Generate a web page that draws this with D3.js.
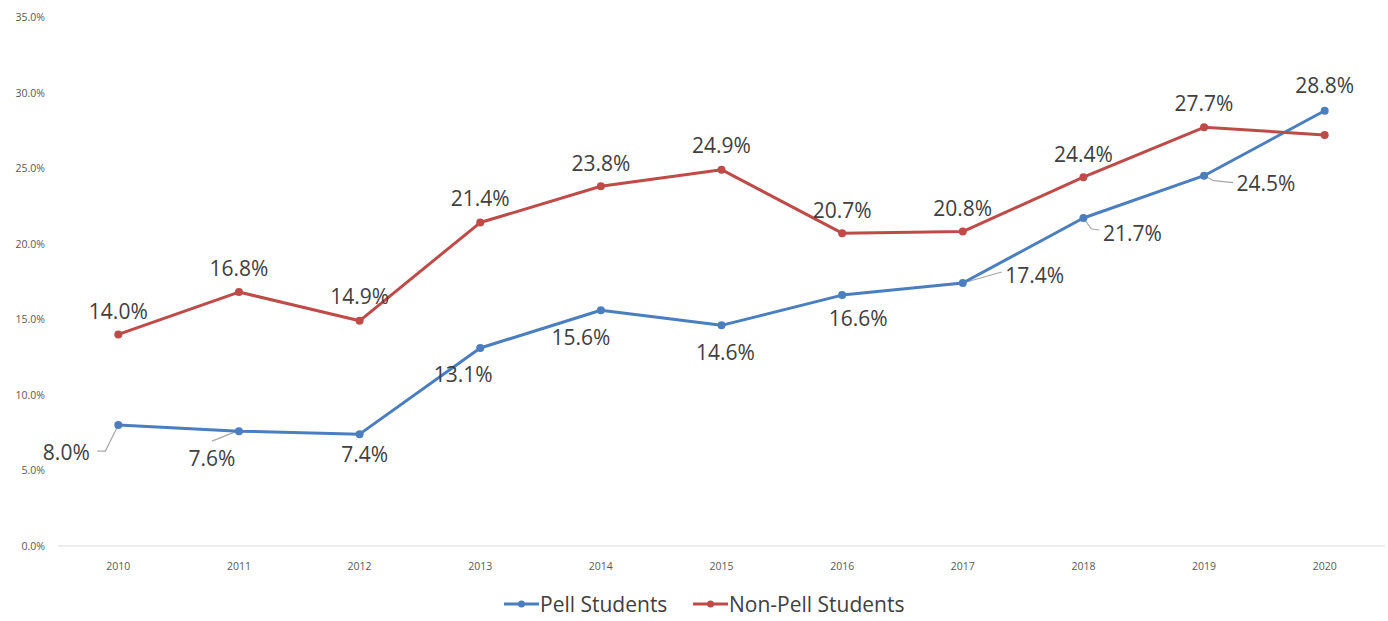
<!DOCTYPE html>
<html><head><meta charset="utf-8">
<script src="https://cdn.jsdelivr.net/npm/d3@7"></script>
<style>body{margin:0;background:#fff}svg{display:block}</style>
</head><body><svg id="c" width="1388" height="621"></svg>
<script>
const years = ["2010","2011","2012","2013","2014","2015","2016","2017","2018","2019","2020"];
const pell = [8.0,7.6,7.4,13.1,15.6,14.6,16.6,17.4,21.7,24.5,28.8];
const nonPell = [14.0,16.8,14.9,21.4,23.8,24.9,20.7,20.8,24.4,27.7,27.2];
const nonPellLabeled = [true,true,true,true,true,true,true,true,true,true,false];
const yTicks = [0,5,10,15,20,25,30,35];
const seriesNames = ["Pell Students","Non-Pell Students"];

// label placement (style): centre offset from point
const pellLabelPos = [[-52,27],[-27,27],[5,20],[-17,26],[-20,27],[4,27],[16,23],[72,-8],[49,15],[62,8],[0,-25]];
const nonLabelPos = [[0,-23],[0,-24],[0,-24],[0,-24],[0,-23],[0,-24],[0,-23],[0,-23],[0,-23],[0,-24],[0,0]];
// leader lines (style): relative polyline points from the marker
const pellLeaders = {0:[[0,0],[-13,26],[-21,26]],1:[[-2,0],[-27,10]],7:[[0,0],[39,-11]],8:[[0,0],[8,11],[16,12]],9:[[0,0],[10,5],[29,7]]};

const svg = d3.select("#c");
const x = d3.scalePoint().domain(years).range([58,1385]).padding(0.5);
const y = d3.scaleLinear().domain([0,35]).range([546,17]);
const fmt = v => v.toFixed(1)+"%";
const font = "'Open Sans', 'Liberation Sans', sans-serif";
const fs = 21;

svg.append("g").selectAll("text").data(yTicks).join("text")
  .attr("x",45).attr("y",d=>y(d)+4).attr("text-anchor","end")
  .attr("font-family",font).attr("font-size",10.5).attr("fill","#595959")
  .text(d=>d.toFixed(1)+"%");
svg.append("line").attr("x1",58).attr("x2",1385).attr("y1",y(0)).attr("y2",y(0))
  .attr("stroke","#d9d9d9").attr("stroke-width",1.2);
svg.append("g").selectAll("text").data(years).join("text")
  .attr("x",d=>x(d)).attr("y",570).attr("text-anchor","middle")
  .attr("font-family",font).attr("font-size",10.5).attr("fill","#595959").text(d=>d);

const colors = ["#4a7ebf","#be4b48"];
const line = d3.line().x((d,i)=>x(years[i])).y(d=>y(d));

// leaders first (under lines)
const lg = svg.append("g");
Object.entries(pellLeaders).forEach(([i,pts])=>{
  const px = x(years[+i]), py = y(pell[+i]);
  lg.append("polyline").attr("points",pts.map(p=>`${px+p[0]},${py+p[1]}`).join(" "))
    .attr("fill","none").attr("stroke","#a6a6a6").attr("stroke-width",1.2);
});

[pell,nonPell].forEach((s,k)=>{
  svg.append("path").datum(s).attr("d",line).attr("fill","none")
    .attr("stroke",colors[k]).attr("stroke-width",3).attr("stroke-linejoin","round");
  svg.append("g").selectAll("circle").data(s).join("circle")
    .attr("cx",(d,i)=>x(years[i])).attr("cy",d=>y(d)).attr("r",4).attr("fill",colors[k]);
});

function labels(s,pos,show){
  const g = svg.append("g");
  s.forEach((v,i)=>{
    if(show && !show[i]) return;
    const px = x(years[i]), py = y(v);
    const [dx,dy] = pos[i];
    g.append("text").attr("x",px+dx).attr("y",py+dy+fs*0.36).attr("text-anchor","middle")
      .attr("font-family",font).attr("font-size",fs).attr("fill","#404040").text(fmt(v));
  });
}
labels(pell,pellLabelPos,null);
labels(nonPell,nonLabelPos,nonPellLabeled);

const leg = svg.append("g");
const lx = [504,693];
seriesNames.forEach((n,k)=>{
  leg.append("line").attr("x1",lx[k]).attr("x2",lx[k]+35).attr("y1",604).attr("y2",604)
    .attr("stroke",colors[k]).attr("stroke-width",3);
  leg.append("circle").attr("cx",lx[k]+17.5).attr("cy",604).attr("r",3.5).attr("fill",colors[k]);
  leg.append("text").attr("x",lx[k]+36).attr("y",611.5).attr("font-family",font)
    .attr("font-size",fs).attr("fill","#404040").text(n);
});
</script></body></html>
